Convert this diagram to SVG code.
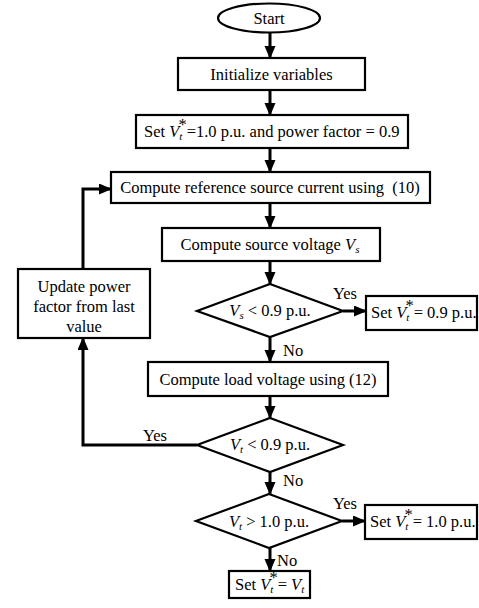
<svg xmlns="http://www.w3.org/2000/svg" width="479" height="608" viewBox="0 0 479 608">
<style>
.s{fill:#fff;stroke:#000;stroke-width:2.2}
.t{font-family:"Liberation Serif","Times New Roman",serif;font-size:16.5px;fill:#000}
.m{text-anchor:middle}
.c{fill:none;stroke:#000;stroke-width:3}
.i{font-style:italic}
.sb{font-size:11px;font-style:italic}
</style>
<defs>
<marker id="a" markerUnits="userSpaceOnUse" markerWidth="14" markerHeight="14" refX="12" refY="5.5" orient="auto">
<path d="M0,0 L13,5.5 L0,11 Z" fill="#000"/>
</marker>
</defs>
<rect width="479" height="608" fill="#fff"/>
<g id="connectors">
<line class="c" x1="270" y1="33" x2="270" y2="58" marker-end="url(#a)"/>
<line class="c" x1="270" y1="90" x2="270" y2="115" marker-end="url(#a)"/>
<line class="c" x1="270" y1="148" x2="270" y2="172" marker-end="url(#a)"/>
<line class="c" x1="270" y1="203" x2="270" y2="228" marker-end="url(#a)"/>
<line class="c" x1="270" y1="261" x2="270" y2="284" marker-end="url(#a)"/>
<line class="c" x1="343" y1="311" x2="366" y2="311" marker-end="url(#a)"/>
<line class="c" x1="270" y1="337" x2="270" y2="362" marker-end="url(#a)"/>
<line class="c" x1="270" y1="396" x2="270" y2="418" marker-end="url(#a)"/>
<polyline class="c" points="197,445 83,445 83,338" marker-end="url(#a)"/>
<polyline class="c" points="83,269 83,189 111,189" marker-end="url(#a)"/>
<line class="c" x1="270" y1="472" x2="270" y2="494" marker-end="url(#a)"/>
<line class="c" x1="342" y1="521" x2="365" y2="521" marker-end="url(#a)"/>
<line class="c" x1="270" y1="548" x2="270" y2="571" marker-end="url(#a)"/>
<text class="t" x="333" y="299">Yes</text>
<text class="t" x="283" y="356">No</text>
<text class="t" x="143" y="441">Yes</text>
<text class="t" x="283" y="486">No</text>
<text class="t" x="333" y="509">Yes</text>
<text class="t" x="277" y="566">No</text>
</g>
<g id="start">
<ellipse class="s" cx="269" cy="18" rx="51" ry="14.5"/>
<text class="t m" x="269" y="24">Start</text>
</g>
<g id="init">
<rect class="s" x="178" y="58" width="187" height="32"/>
<text class="t m" x="271.5" y="80">Initialize variables</text>
</g>
<g id="setvt">
<rect class="s" x="136" y="115" width="272" height="33"/>
<text class="t" x="144" y="137">Set <tspan class="i">V</tspan><tspan class="sb" dy="3">t</tspan><tspan dx="-4" dy="-10">*</tspan><tspan dy="7">=1.0 p.u. and power factor = 0.9</tspan></text>
</g>
<g id="refcur">
<rect class="s" x="111" y="172" width="319" height="31"/>
<text class="t m" x="270" y="193" xml:space="preserve">Compute reference source current using  (10)</text>
</g>
<g id="srcv">
<rect class="s" x="162" y="228" width="218" height="33"/>
<text class="t m" x="270" y="250">Compute source voltage <tspan class="i">V</tspan><tspan class="sb" dy="3">s</tspan></text>
</g>
<g id="d1">
<polygon class="s" points="270,284 343,311 270,337 197,311"/>
<text class="t m" x="270" y="316"><tspan class="i">V</tspan><tspan class="sb" dy="3">s</tspan><tspan dy="-3"> &lt; 0.9 p.u.</tspan></text>
</g>
<g id="set09">
<rect class="s" x="366" y="296" width="111" height="34"/>
<text class="t" x="371" y="318">Set <tspan class="i">V</tspan><tspan class="sb" dy="3">t</tspan><tspan dx="-4" dy="-10">*</tspan><tspan dy="7">= 0.9 p.u.</tspan></text>
</g>
<g id="update">
<rect class="s" x="18" y="269" width="132" height="69"/>
<text class="t m" x="84" y="292">Update power</text>
<text class="t m" x="84" y="312">factor from last</text>
<text class="t m" x="84" y="332">value</text>
</g>
<g id="loadv">
<rect class="s" x="148" y="362" width="240" height="34"/>
<text class="t m" x="268" y="385">Compute load voltage using (12)</text>
</g>
<g id="d2">
<polygon class="s" points="270,418 343,445 270,472 197,445"/>
<text class="t m" x="270" y="450"><tspan class="i">V</tspan><tspan class="sb" dy="3">t</tspan><tspan dy="-3"> &lt; 0.9 p.u.</tspan></text>
</g>
<g id="d3">
<polygon class="s" points="269,494 342,521 269,548 196,521"/>
<text class="t m" x="269" y="527"><tspan class="i">V</tspan><tspan class="sb" dy="3">t</tspan><tspan dy="-3"> &gt; 1.0 p.u.</tspan></text>
</g>
<g id="set10">
<rect class="s" x="365" y="505" width="112" height="34"/>
<text class="t" x="370" y="527">Set <tspan class="i">V</tspan><tspan class="sb" dy="3">t</tspan><tspan dx="-4" dy="-10">*</tspan><tspan dy="7">= 1.0 p.u.</tspan></text>
</g>
<g id="final">
<rect class="s" x="229" y="571" width="81" height="27"/>
<text class="t" x="235" y="590">Set <tspan class="i">V</tspan><tspan class="sb" dy="3">t</tspan><tspan dx="-4" dy="-10">*</tspan><tspan dy="7">= </tspan><tspan class="i">V</tspan><tspan class="sb" dy="3">t</tspan></text>
</g>
</svg>
